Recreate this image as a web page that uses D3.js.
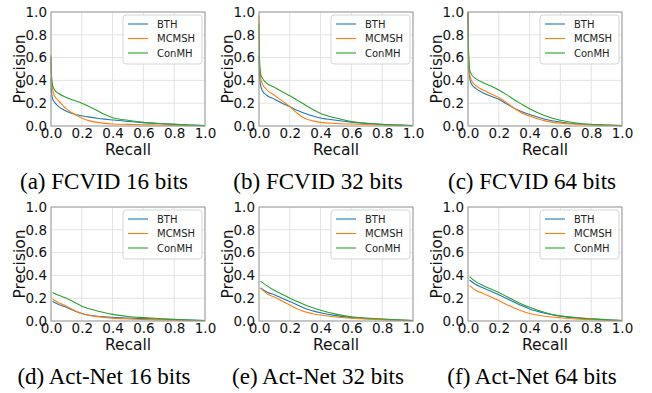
<!DOCTYPE html>
<html>
<head>
<meta charset="utf-8">
<script src="https://cdn.jsdelivr.net/npm/d3@7"></script>
<style>
  body { margin: 0; background: #fff; }
  .tick text { font-family: "DejaVu Sans", sans-serif; font-size: 13.5px; fill: #111; }
  .axis-label { font-family: "DejaVu Sans", sans-serif; font-size: 15.5px; fill: #111; }
  .legend text { font-family: "DejaVu Sans", sans-serif; font-size: 10px; fill: #222; }
  .caption { font-family: "Liberation Serif", serif; font-size: 23px; fill: #000; }
</style>
</head>
<body>
<div id="chart"></div>
<script>
let methods = ["BTH", "MCMSH", "ConMH"];
let colors = ["#1f77b4", "#ff7f0e", "#2ca02c"];
let axisTicks = [0, 0.2, 0.4, 0.6, 0.8, 1.0];

// recall grids
let recallTop = [0, 0.003, 0.01, 0.022, 0.05, 0.1, 0.15, 0.2, 0.25, 0.3, 0.35, 0.4, 0.5, 0.6, 0.7, 0.8, 0.9, 1.0];
let recallBottom = [0.01, 0.05, 0.1, 0.15, 0.2, 0.25, 0.3, 0.35, 0.4, 0.5, 0.6, 0.7, 0.8, 0.9, 1.0];

// FCVID 16 bits
let fcvid16 = [
    [0.42, 0.3, 0.24, 0.21, 0.17, 0.13, 0.105, 0.09, 0.078, 0.068, 0.06, 0.053, 0.04, 0.03, 0.022, 0.015, 0.009, 0.004],
    [0.62, 0.42, 0.32, 0.265, 0.22, 0.15, 0.105, 0.07, 0.045, 0.032, 0.023, 0.018, 0.014, 0.011, 0.009, 0.007, 0.005, 0.003],
    [0.6, 0.45, 0.36, 0.32, 0.285, 0.25, 0.225, 0.2, 0.168, 0.135, 0.1, 0.072, 0.05, 0.032, 0.022, 0.014, 0.008, 0.003]
];
// FCVID 32 bits
let fcvid32 = [
    [0.62, 0.45, 0.36, 0.31, 0.27, 0.235, 0.2, 0.17, 0.135, 0.11, 0.088, 0.07, 0.05, 0.034, 0.022, 0.013, 0.008, 0.004],
    [0.97, 0.6, 0.43, 0.37, 0.32, 0.27, 0.22, 0.17, 0.11, 0.065, 0.045, 0.032, 0.022, 0.017, 0.013, 0.009, 0.006, 0.003],
    [0.9, 0.58, 0.46, 0.42, 0.375, 0.34, 0.3, 0.265, 0.225, 0.185, 0.145, 0.11, 0.07, 0.04, 0.024, 0.014, 0.008, 0.004]
];
// FCVID 64 bits
let fcvid64 = [
    [1.0, 0.6, 0.43, 0.37, 0.33, 0.29, 0.26, 0.235, 0.195, 0.155, 0.125, 0.1, 0.06, 0.035, 0.02, 0.012, 0.007, 0.003],
    [1.0, 0.65, 0.46, 0.4, 0.355, 0.315, 0.28, 0.25, 0.205, 0.155, 0.115, 0.088, 0.045, 0.025, 0.016, 0.01, 0.006, 0.003],
    [1.0, 0.7, 0.5, 0.455, 0.415, 0.38, 0.35, 0.315, 0.275, 0.23, 0.19, 0.152, 0.09, 0.05, 0.027, 0.015, 0.009, 0.004]
];
// Act-Net 16 bits
let actnet16 = [
    [0.17, 0.145, 0.12, 0.09, 0.065, 0.05, 0.042, 0.036, 0.032, 0.026, 0.021, 0.016, 0.012, 0.008, 0.004],
    [0.19, 0.16, 0.13, 0.095, 0.065, 0.048, 0.038, 0.031, 0.025, 0.018, 0.013, 0.01, 0.008, 0.005, 0.003],
    [0.25, 0.225, 0.2, 0.165, 0.13, 0.107, 0.088, 0.072, 0.058, 0.04, 0.03, 0.022, 0.015, 0.009, 0.005]
];
// Act-Net 32 bits
let actnet32 = [
    [0.29, 0.255, 0.23, 0.2, 0.17, 0.14, 0.11, 0.089, 0.072, 0.047, 0.03, 0.02, 0.014, 0.008, 0.004],
    [0.29, 0.24, 0.21, 0.175, 0.14, 0.105, 0.08, 0.064, 0.052, 0.035, 0.025, 0.017, 0.012, 0.007, 0.003],
    [0.35, 0.31, 0.27, 0.235, 0.2, 0.17, 0.14, 0.116, 0.095, 0.06, 0.037, 0.026, 0.018, 0.011, 0.005]
];
// Act-Net 64 bits
let actnet64 = [
    [0.36, 0.32, 0.29, 0.26, 0.23, 0.198, 0.165, 0.133, 0.105, 0.068, 0.042, 0.028, 0.018, 0.01, 0.004],
    [0.31, 0.27, 0.24, 0.21, 0.18, 0.145, 0.115, 0.088, 0.066, 0.042, 0.028, 0.018, 0.012, 0.007, 0.003],
    [0.39, 0.345, 0.31, 0.28, 0.25, 0.215, 0.18, 0.148, 0.12, 0.075, 0.045, 0.03, 0.02, 0.011, 0.005]
];

let captions = ["(a) FCVID 16 bits", "(b) FCVID 32 bits", "(c) FCVID 64 bits",
                "(d) Act-Net 16 bits", "(e) Act-Net 32 bits", "(f) Act-Net 64 bits"];

let panels = [
    { recall: recallTop, series: fcvid16 },
    { recall: recallTop, series: fcvid32 },
    { recall: recallTop, series: fcvid64 },
    { recall: recallBottom, series: actnet16 },
    { recall: recallBottom, series: actnet32 },
    { recall: recallBottom, series: actnet64 }
];

let width = 652;
let height = 393;
let plotLeft = [51, 259, 468];
let plotTop = [12, 207];
let plotW = 154;
let plotH = 114;
let captionX = [104, 318, 532];
let captionY = [189, 384];

let svg = d3.select("#chart")
    .append("svg")
    .attr("width", width)
    .attr("height", height);

panels.forEach((panel, i) => {
    let col = i % 3;
    let row = Math.floor(i / 3);
    let x0 = plotLeft[col];
    let y0 = plotTop[row];

    let xScale = d3.scaleLinear().domain([0, 1]).range([x0, x0 + plotW]);
    let yScale = d3.scaleLinear().domain([0, 1]).range([y0 + plotH, y0]);

    let g = svg.append("g");

    // grid
    g.selectAll(".gx")
        .data(axisTicks)
        .enter()
        .append("line")
        .attr("x1", (d) => xScale(d)).attr("x2", (d) => xScale(d))
        .attr("y1", y0).attr("y2", y0 + plotH)
        .attr("stroke", "#e3e3e3").attr("stroke-width", 1);
    g.selectAll(".gy")
        .data(axisTicks)
        .enter()
        .append("line")
        .attr("x1", x0).attr("x2", x0 + plotW)
        .attr("y1", (d) => yScale(d)).attr("y2", (d) => yScale(d))
        .attr("stroke", "#e3e3e3").attr("stroke-width", 1);

    // axes
    let xAxis = d3.axisBottom(xScale)
        .tickValues(axisTicks)
        .tickFormat(d3.format(".1f"))
        .tickSize(0)
        .tickPadding(2);
    g.append("g")
        .attr("transform", "translate(0," + (y0 + plotH) + ")")
        .call(xAxis)
        .call((a) => a.select(".domain").remove());

    let yAxis = d3.axisLeft(yScale)
        .tickValues(axisTicks)
        .tickFormat(d3.format(".1f"))
        .tickSize(0)
        .tickPadding(4);
    g.append("g")
        .attr("transform", "translate(" + x0 + ",0)")
        .call(yAxis)
        .call((a) => a.select(".domain").remove());

    // curves
    let line = d3.line()
        .x((d) => xScale(d[0]))
        .y((d) => yScale(d[1]))
        .curve(d3.curveMonotoneX);

    panel.series.forEach((values, k) => {
        let pts = panel.recall.map((r, j) => [r, values[j]]);
        g.append("path")
            .attr("d", line(pts))
            .attr("fill", "none")
            .attr("stroke", colors[k])
            .attr("stroke-width", 1.1);
    });

    // frame
    g.append("rect")
        .attr("x", x0).attr("y", y0)
        .attr("width", plotW).attr("height", plotH)
        .attr("fill", "none")
        .attr("stroke", "#9a9a9a")
        .attr("stroke-width", 1);

    // labels
    g.append("text")
        .attr("class", "axis-label")
        .attr("text-anchor", "middle")
        .attr("x", x0 + plotW / 2)
        .attr("y", y0 + plotH + 29)
        .text("Recall");
    g.append("text")
        .attr("class", "axis-label")
        .attr("text-anchor", "middle")
        .attr("transform", "translate(" + (x0 - 26) + "," + (y0 + plotH / 2) + ") rotate(-90)")
        .text("Precision");

    // legend
    let lw = 79, lh = 49;
    let lx = x0 + plotW - lw - 3;
    let ly = y0 + 3;
    let legend = g.append("g").attr("class", "legend");
    legend.append("rect")
        .attr("x", lx).attr("y", ly)
        .attr("width", lw).attr("height", lh)
        .attr("rx", 3)
        .attr("fill", "#fff")
        .attr("fill-opacity", 0.85)
        .attr("stroke", "#d5d5d5");
    methods.forEach((m, k) => {
        let yy = ly + 9 + k * 14.5;
        legend.append("line")
            .attr("x1", lx + 5).attr("x2", lx + 25)
            .attr("y1", yy).attr("y2", yy)
            .attr("stroke", colors[k])
            .attr("stroke-width", 1.1);
        legend.append("text")
            .attr("x", lx + 34)
            .attr("y", yy + 3.5)
            .text(m);
    });

    // caption
    svg.append("text")
        .attr("class", "caption")
        .attr("text-anchor", "middle")
        .attr("x", captionX[col])
        .attr("y", captionY[row])
        .text(captions[i]);
});
</script>
</body>
</html>
